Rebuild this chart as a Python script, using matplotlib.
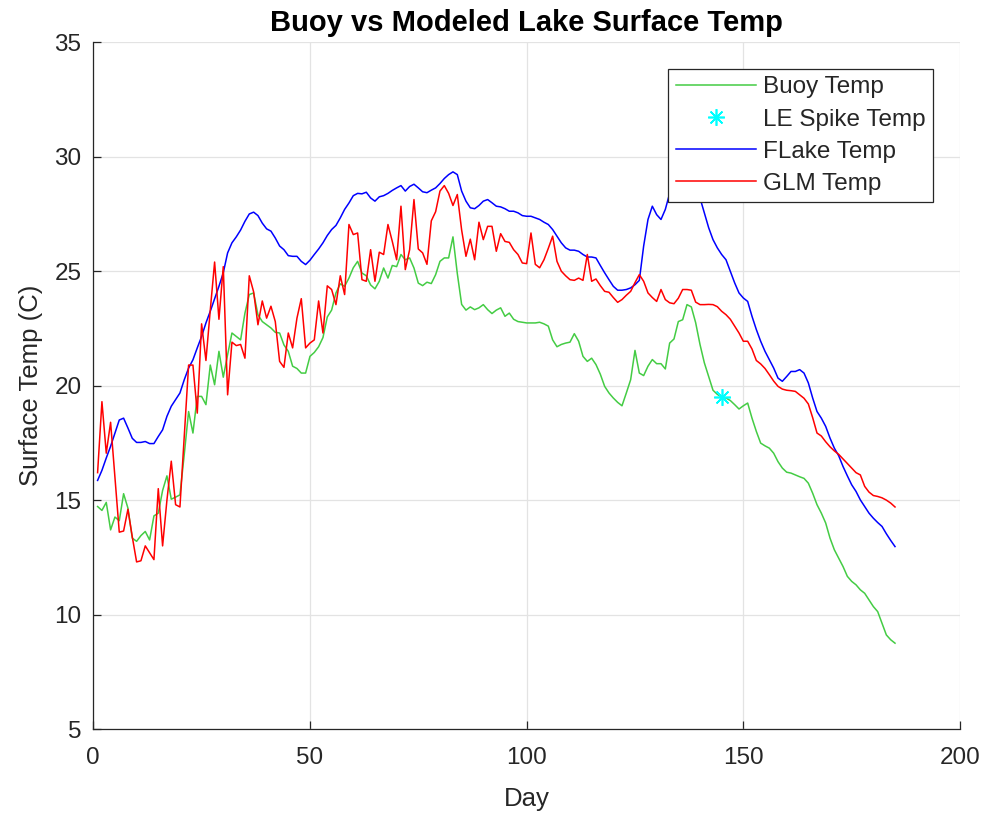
import matplotlib.pyplot as plt
import numpy as np

plt.rcParams['font.family'] = ['Liberation Sans', 'DejaVu Sans']

# daily surface temperatures (C), day 1..185
buoy_temp = [
    14.72, 14.55, 14.9, 13.7, 14.26, 14.1, 15.28, 14.65, 13.34, 13.2,
    13.45, 13.63, 13.26, 14.31, 14.43, 15.42, 16.06, 15.04, 15.13, 15.23,
    17.0, 18.87, 17.93, 19.53, 19.53, 19.17, 20.9, 20.04, 21.5, 20.37,
    21.35, 22.3, 22.15, 22.0, 23.17, 23.98, 24.05, 23.1, 22.8, 22.66,
    22.52, 22.33, 22.3, 21.78, 21.5, 20.85, 20.75, 20.55, 20.55, 21.28,
    21.45, 21.7, 22.1, 23.0, 23.3, 24.05, 24.45, 24.34, 24.7, 25.15,
    25.43, 24.92, 24.8, 24.4, 24.23, 24.56, 25.14, 24.7, 25.25, 25.2,
    25.73, 25.5, 25.58, 25.14, 24.48, 24.37, 24.52, 24.46, 24.85, 25.43,
    25.58, 25.58, 26.5, 24.9, 23.55, 23.3, 23.44, 23.32, 23.4, 23.54,
    23.32, 23.15, 23.3, 23.4, 23.03, 23.17, 22.9, 22.8, 22.77, 22.74,
    22.74, 22.74, 22.77, 22.7, 22.6, 22.0, 21.7, 21.8, 21.86, 21.9,
    22.27, 21.94, 21.28, 21.06, 21.2, 20.92, 20.5, 19.97, 19.68, 19.46,
    19.27, 19.12, 19.68, 20.26, 21.54, 20.55, 20.44, 20.85, 21.14, 20.96,
    20.96, 20.73, 21.86, 22.04, 22.8, 22.88, 23.54, 23.44, 22.75, 21.8,
    21.0, 20.4, 19.8, 19.62, 19.5, 19.46, 19.35, 19.17, 18.98, 19.12,
    19.24, 18.58, 18.0, 17.49, 17.37, 17.27, 17.05, 16.68, 16.4, 16.22,
    16.18, 16.1, 16.02, 15.95, 15.74, 15.3, 14.8, 14.43, 14.0, 13.34,
    12.83, 12.47, 12.1, 11.67, 11.45, 11.3, 11.08, 10.93, 10.64, 10.35,
    10.13, 9.62, 9.11, 8.9, 8.75,
]

flake_temp = [
    15.86, 16.3, 16.84, 17.35, 17.93, 18.5, 18.58, 18.15, 17.7, 17.52,
    17.52, 17.56, 17.47, 17.47, 17.78, 18.07, 18.66, 19.1, 19.39, 19.68,
    20.26, 20.77, 21.13, 21.65, 22.15, 22.74, 23.25, 23.79, 24.34, 24.93,
    25.8, 26.24, 26.5, 26.8, 27.18, 27.5, 27.58, 27.43, 27.1, 26.85,
    26.75, 26.45, 26.1, 25.94, 25.68, 25.65, 25.65, 25.43, 25.29, 25.48,
    25.73, 25.97, 26.24, 26.56, 26.82, 27.0, 27.33, 27.7, 27.98, 28.3,
    28.4, 28.38, 28.45, 28.2, 28.06, 28.25, 28.3, 28.4, 28.53, 28.64,
    28.74, 28.5, 28.7, 28.8, 28.64, 28.47, 28.43, 28.54, 28.64, 28.83,
    29.05, 29.22, 29.34, 29.22, 28.5, 28.06, 27.77, 27.73, 27.87, 28.06,
    28.13, 27.99, 27.84, 27.81, 27.73, 27.62, 27.62, 27.55, 27.43, 27.4,
    27.4, 27.33, 27.26, 27.14, 27.04, 26.82, 26.53, 26.24, 26.02, 25.92,
    25.92, 25.87, 25.73, 25.62, 25.62, 25.58, 25.25, 24.93, 24.63, 24.34,
    24.17, 24.17, 24.2, 24.27, 24.41, 24.6, 26.1, 27.26, 27.84, 27.47,
    27.26, 27.7, 28.4, 28.9, 29.3, 29.5, 29.5, 29.3, 28.9, 28.2,
    27.55, 26.9, 26.38, 26.02, 25.73, 25.5, 25.0, 24.49, 24.05, 23.83,
    23.68, 23.03, 22.45, 21.94, 21.5, 21.13, 20.77, 20.33, 20.19, 20.4,
    20.62, 20.62, 20.7, 20.55, 20.12, 19.46, 18.87, 18.58, 18.22, 17.71,
    17.27, 16.94, 16.47, 16.06, 15.67, 15.38, 15.01, 14.72, 14.43, 14.21,
    14.02, 13.85, 13.53, 13.24, 12.97,
]

glm_temp = [
    16.2, 19.3, 17.05, 18.4, 16.0, 13.6, 13.65, 14.6, 13.4, 12.3,
    12.35, 13.0, 12.7, 12.4, 15.5, 13.0, 15.0, 16.7, 14.8, 14.7,
    17.8, 20.9, 20.9, 18.8, 22.7, 21.1, 23.3, 25.4, 22.9, 25.2,
    19.6, 21.9, 21.75, 21.8, 21.2, 24.8, 24.1, 22.66, 23.7, 22.95,
    23.47, 22.8, 21.06, 20.8, 22.3, 21.65, 22.95, 23.8, 21.65, 21.86,
    22.0, 23.7, 22.3, 24.36, 24.2, 23.54, 24.8, 23.98, 27.04, 26.6,
    26.67, 24.63, 24.56, 25.94, 24.56, 25.83, 25.73, 27.04, 26.3, 25.5,
    27.84, 25.07, 25.94, 28.13, 25.97, 25.8, 25.3, 27.2, 27.6, 28.5,
    28.74, 28.4, 27.87, 28.35, 26.8, 25.65, 26.4, 25.5, 27.14, 26.38,
    26.96, 26.96, 25.87, 26.64, 26.3, 26.26, 25.94, 25.73, 25.36, 25.33,
    26.67, 25.3, 25.15, 25.5, 26.0, 26.53, 25.43, 25.0, 24.8, 24.63,
    24.6, 24.7, 24.6, 25.73, 24.56, 24.66, 24.37, 24.12, 24.08, 23.85,
    23.64, 23.76, 23.95, 24.12, 24.5, 24.85, 24.56, 24.05, 23.85, 23.68,
    24.2, 23.76, 23.62, 23.58, 23.82, 24.2, 24.2, 24.17, 23.65, 23.54,
    23.54, 23.55, 23.54, 23.45, 23.25, 23.1, 22.9, 22.6, 22.3, 21.94,
    21.94, 21.6, 21.1, 20.95, 20.75, 20.48, 20.2, 19.97, 19.85, 19.8,
    19.78, 19.75, 19.6, 19.45, 19.2, 18.6, 17.93, 17.8, 17.55, 17.33,
    17.15, 17.0, 16.8, 16.6, 16.4, 16.2, 16.1, 15.6, 15.35, 15.2,
    15.16, 15.1, 15.0, 14.87, 14.7,
]

spike_day = [145]
spike_temp = [19.5]

days = np.arange(1, len(buoy_temp) + 1)
ink = '#262626'

fig = plt.figure(figsize=(9.89, 8.15), dpi=100)
ax = fig.add_axes([0.0943, 0.1055, 0.8764, 0.8426])

ax.plot(days, buoy_temp, color='#44cc44', lw=1.1, label='Buoy Temp')
ax.plot(spike_day, spike_temp, ls='none', marker=(8, 2, 0), ms=12,
        mew=1.2, color='#00ffff', label='LE Spike Temp')
ax.plot(days, flake_temp, color='#0000ff', lw=1.1, label='FLake Temp')
ax.plot(days, glm_temp, color='#ff0000', lw=1.1, label='GLM Temp')

ax.set_xlim(0, 200)
ax.set_ylim(5, 35)
ax.set_xticks([0, 50, 100, 150, 200])
ax.set_yticks([5, 10, 15, 20, 25, 30, 35])

ax.grid(True, color='#e3e3e3', lw=0.9)
ax.set_axisbelow(True)
for side in ['top', 'right']:
    ax.spines[side].set_visible(False)
for side in ['left', 'bottom']:
    ax.spines[side].set_color(ink)
    ax.spines[side].set_linewidth(0.9)
ax.tick_params(direction='in', length=6, width=0.9, colors=ink,
               labelsize=17.5)
ax.tick_params(axis='x', pad=13)
ax.tick_params(axis='y', pad=8.5)

ax.set_xlabel('Day', fontsize=18.5, color=ink, labelpad=13)
ax.set_ylabel('Surface Temp (C)', fontsize=18.5, color=ink, labelpad=8)
ax.set_title('Buoy vs Modeled Lake Surface Temp', fontsize=21,
             fontweight='bold', pad=8)

leg = ax.legend(loc='upper right', bbox_to_anchor=(0.9688, 0.9611),
                borderaxespad=0, fontsize=17.5, frameon=True, fancybox=False,
                handlelength=3.3, handletextpad=0.3, labelspacing=0.42,
                borderpad=0.3)
leg.get_frame().set_edgecolor(ink)
leg.get_frame().set_linewidth(0.9)
leg.get_frame().set_alpha(1)
for t in leg.get_texts():
    t.set_color(ink)

fig.savefig('out.png', dpi=100)
